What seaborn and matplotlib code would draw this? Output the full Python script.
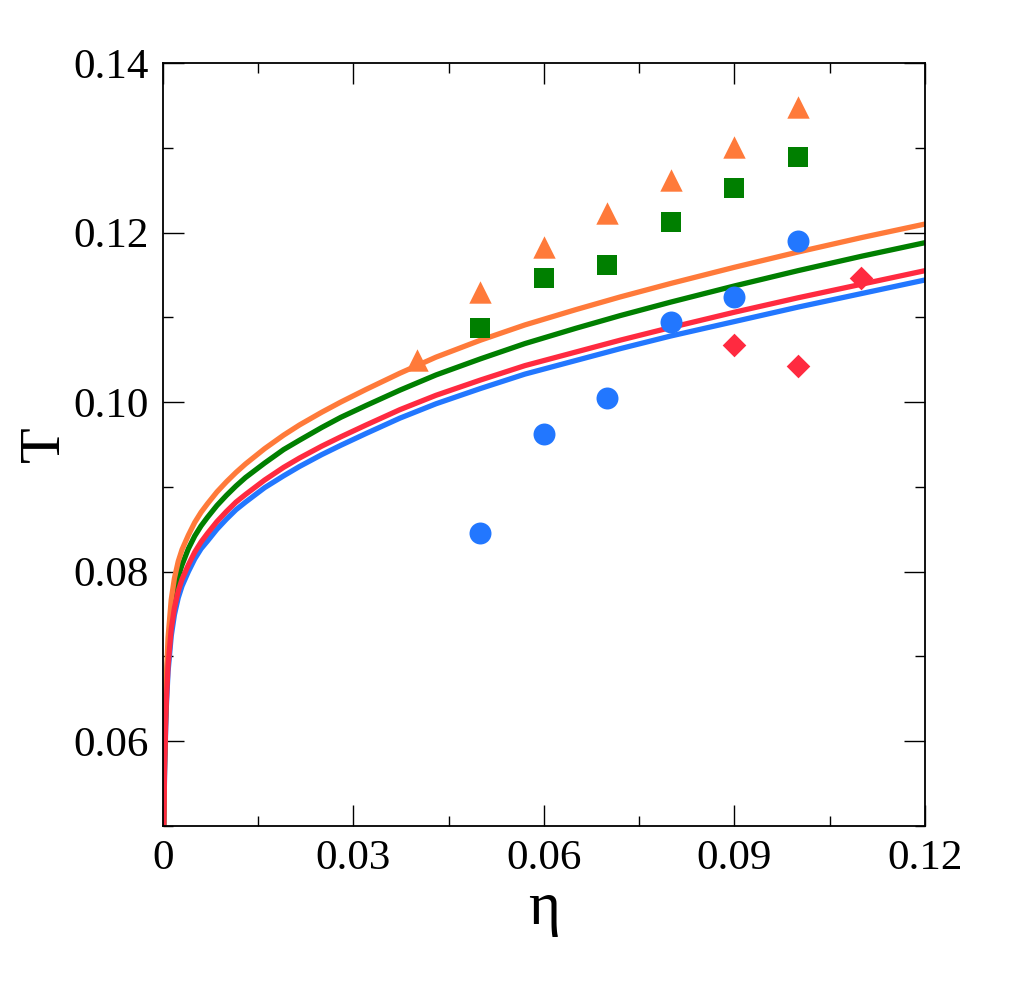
import matplotlib
matplotlib.use("Agg")
import matplotlib.pyplot as plt
from matplotlib.ticker import MultipleLocator, FixedLocator, FixedFormatter
import seaborn as sns

# ---- data ----
eta_curve = [0.00008, 0.00026, 0.0005, 0.0008, 0.0013, 0.0018, 0.0024, 0.003,
             0.004, 0.005, 0.006, 0.007, 0.0085, 0.01, 0.0115, 0.013, 0.016,
             0.019, 0.0215, 0.025, 0.028, 0.032, 0.0373, 0.043, 0.05, 0.057,
             0.065, 0.072, 0.08, 0.09, 0.1, 0.11, 0.12]
T_orange_curve = [0.048, 0.0590, 0.0668, 0.0722, 0.0767, 0.0792, 0.0812, 0.0826,
                  0.0843, 0.0858, 0.0870, 0.0880, 0.0894, 0.0906, 0.0917, 0.0927,
                  0.0945, 0.0961, 0.0973, 0.0988, 0.1000, 0.1015, 0.1034, 0.1053,
                  0.1073, 0.1091, 0.1109, 0.1124, 0.1140, 0.1159, 0.1177, 0.1194,
                  0.1210]
T_green_curve = [0.048, 0.0582, 0.0655, 0.0706, 0.0749, 0.0774, 0.0794, 0.0808,
                 0.0827, 0.0842, 0.0854, 0.0864, 0.0878, 0.0890, 0.0901, 0.0911,
                 0.0928, 0.0944, 0.0955, 0.0970, 0.0982, 0.0996, 0.1014, 0.1032,
                 0.1051, 0.1069, 0.1087, 0.1102, 0.1118, 0.1137, 0.1155, 0.1172,
                 0.1188]
T_red_curve = [0.048, 0.0572, 0.0642, 0.0689, 0.0732, 0.0757, 0.0777, 0.0791,
               0.0808, 0.0823, 0.0835, 0.0845, 0.0859, 0.0871, 0.0882, 0.0891,
               0.0908, 0.0923, 0.0934, 0.0948, 0.0959, 0.0973, 0.0991, 0.1008,
               0.1026, 0.1043, 0.1059, 0.1073, 0.1088, 0.1106, 0.1123, 0.1139,
               0.1155]
T_blue_curve = [0.048, 0.0566, 0.0636, 0.0682, 0.0724, 0.0749, 0.0769, 0.0783,
                0.0800, 0.0815, 0.0827, 0.0836, 0.0850, 0.0862, 0.0873, 0.0882,
                0.0899, 0.0913, 0.0924, 0.0938, 0.0949, 0.0963, 0.0981, 0.0998,
                0.1016, 0.1033, 0.1049, 0.1063, 0.1078, 0.1095, 0.1112, 0.1128,
                0.1144]

eta_triangles = [0.04, 0.05, 0.06, 0.07, 0.08, 0.09, 0.10]
T_triangles = [0.1050, 0.1130, 0.1183, 0.1223, 0.1262, 0.1301, 0.1348]

eta_squares = [0.05, 0.06, 0.07, 0.08, 0.09, 0.10]
T_squares = [0.1087, 0.1146, 0.1162, 0.1212, 0.1253, 0.1289]

eta_circles = [0.05, 0.06, 0.07, 0.08, 0.09, 0.10]
T_circles = [0.0846, 0.0962, 0.1005, 0.1095, 0.1124, 0.1190]

eta_diamonds = [0.09, 0.10, 0.11]
T_diamonds = [0.1067, 0.1043, 0.1146]

x_ticks = [0, 0.03, 0.06, 0.09, 0.12]
x_ticklabels = ["0", "0.03", "0.06", "0.09", "0.12"]
y_ticks = [0.06, 0.08, 0.10, 0.12, 0.14]
y_ticklabels = ["0.06", "0.08", "0.10", "0.12", "0.14"]

ORANGE = "#ff7a3a"
GREEN = "#007f00"
BLUE = "#2277ff"
RED = "#ff2a40"

sns.set_style("ticks")
plt.rcParams["font.family"] = ["Liberation Serif", "DejaVu Serif"]
plt.rcParams["text.color"] = "black"
plt.rcParams["axes.labelcolor"] = "black"
plt.rcParams["xtick.color"] = "black"
plt.rcParams["ytick.color"] = "black"

fig = plt.figure(figsize=(10.11, 9.90), dpi=100)
ax = fig.add_axes([0.1612, 0.1657, 0.7537, 0.7707])

curves = [(T_blue_curve, BLUE), (T_green_curve, GREEN),
          (T_orange_curve, ORANGE), (T_red_curve, RED)]
for vals, col in curves:
    sns.lineplot(x=eta_curve, y=vals, color=col, linewidth=3.8, sort=False,
                 ax=ax, zorder=2, solid_joinstyle="round",
                 solid_capstyle="round")

sns.scatterplot(x=eta_triangles, y=T_triangles, marker="^", s=260,
                color=ORANGE, linewidth=0, ax=ax, zorder=3)
sns.scatterplot(x=eta_squares, y=T_squares, marker="s", s=215,
                color=GREEN, linewidth=0, ax=ax, zorder=3)
sns.scatterplot(x=eta_circles, y=T_circles, marker="o", s=250,
                color=BLUE, linewidth=0, ax=ax, zorder=3)
sns.scatterplot(x=eta_diamonds, y=T_diamonds, marker="D", s=145,
                color=RED, linewidth=0, ax=ax, zorder=3)

ax.set_xlim(0, 0.12)
ax.set_ylim(0.05, 0.14)
ax.xaxis.set_major_locator(FixedLocator(x_ticks))
ax.xaxis.set_major_formatter(FixedFormatter(x_ticklabels))
ax.xaxis.set_minor_locator(MultipleLocator(0.015))
ax.yaxis.set_major_locator(FixedLocator(y_ticks))
ax.yaxis.set_major_formatter(FixedFormatter(y_ticklabels))
ax.yaxis.set_minor_locator(MultipleLocator(0.01))

ax.tick_params(which="both", direction="in", top=True, right=True,
               width=1.0, color="black", labelcolor="black",
               labelsize=31, pad=10)
ax.tick_params(which="major", length=15)
ax.tick_params(which="minor", length=7.5)
for sp in ax.spines.values():
    sp.set_visible(True)
    sp.set_linewidth(1.3)
    sp.set_color("black")

ax.set_xlabel("η", fontsize=44, labelpad=2, color="black")
ax.set_ylabel("T", fontsize=42, labelpad=2, color="black")

fig.savefig("out.png", dpi=100)
